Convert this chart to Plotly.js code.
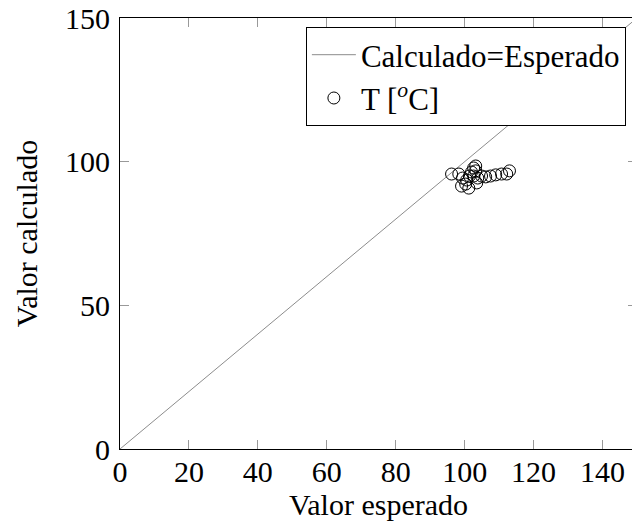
<!DOCTYPE html>
<html>
<head>
<meta charset="utf-8">
<script src="https://cdn.plot.ly/plotly-3.0.1.min.js"></script>
<style>
html,body{margin:0;padding:0;overflow:hidden;background:#fff;width:632px;height:529px;}
#chart{width:640px;height:529px;}
</style>
</head>
<body>
<div id="chart"></div>
<script>
// Identity line
const lineX = [0, 150];
const lineY = [0, 150];

// Measured points T [oC]
const esperado = [96.2, 98.3, 99.4, 99.1, 100.3, 100.6, 101.4, 102.0, 102.6, 103.2, 103.2, 102.6, 103.8, 103.5, 104.9, 106.1, 107.5, 109.0, 110.7, 112.2, 113.0, 101.2];
const calculado = [95.7, 95.7, 94.3, 91.5, 92.2, 93.6, 95.0, 96.4, 97.8, 98.5, 96.8, 95.0, 94.3, 92.6, 95.0, 94.7, 95.0, 95.4, 95.7, 95.7, 96.8, 90.8];

const xTicks = [0, 20, 40, 60, 80, 100, 120, 140];
const yTicks = [0, 50, 100, 150];

const fontFam = 'Liberation Serif, Times New Roman, serif';

const traces = [
  {
    x: lineX, y: lineY, mode: 'lines', name: 'Calculado=Esperado',
    line: {color: '#8c8c8c', width: 1}
  },
  {
    x: esperado, y: calculado, mode: 'markers', name: 'T [<sup><i>o</i></sup>C]',
    marker: {symbol: 'circle-open', size: 12, color: '#000', line: {width: 1, color: '#000'}}
  }
];

const layout = {
  width: 640, height: 529,
  margin: {l: 120, r: 2.5, t: 18, b: 80},
  paper_bgcolor: '#fff', plot_bgcolor: '#fff',
  font: {family: fontFam, size: 30, color: '#000'},
  showlegend: true,
  legend: {
    x: 0.9785, y: 0.979, xanchor: 'right', yanchor: 'top',
    bgcolor: '#fff', bordercolor: '#000', borderwidth: 1,
    font: {family: fontFam, size: 31, color: '#000'},
    itemwidth: 44,
    entrywidth: 275, entrywidthmode: 'pixels',
    tracegroupgap: 0
  },
  xaxis: {
    range: [0, 150], tickvals: xTicks, ticktext: xTicks.map(String),
    ticks: 'inside', ticklen: 9, tickcolor: '#999', tickwidth: 1,
    showline: true, linecolor: '#000', linewidth: 1, mirror: 'ticks',
    showgrid: false, zeroline: false,
    title: {text: 'Valor esperado', font: {family: fontFam, size: 30}, standoff: 3},
    ticklabelstandoff: -4
  },
  yaxis: {
    range: [0, 150], tickvals: yTicks, ticktext: yTicks.map(String),
    ticks: 'inside', ticklen: 9, tickcolor: '#999', tickwidth: 1,
    showline: true, linecolor: '#000', linewidth: 1, mirror: 'ticks',
    showgrid: false, zeroline: false,
    title: {text: 'Valor calculado', font: {family: fontFam, size: 30}, standoff: 18},
    ticklabelstandoff: 3
  }
};

Plotly.newPlot('chart', traces, layout, {displayModeBar: false, staticPlot: true});
</script>
</body>
</html>
